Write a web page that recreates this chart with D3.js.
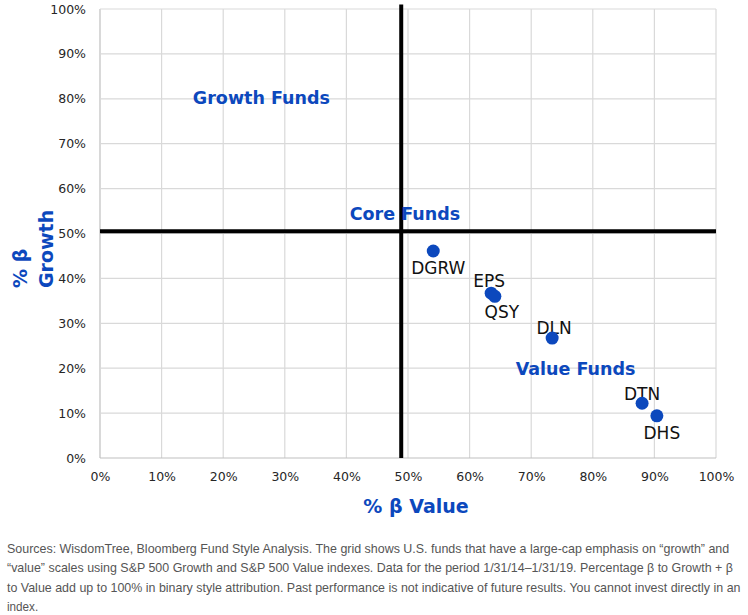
<!DOCTYPE html>
<html>
<head>
<meta charset="utf-8">
<script src="https://cdn.jsdelivr.net/npm/d3@7"></script>
<style>
  body { margin: 0; background: #fff; }
  svg { display: block; }
</style>
</head>
<body>
<div id="chart"></div>
<script>
// fund style data (percent beta to value / growth)
const funds = ["DGRW", "EPS", "QSY", "DLN", "DTN", "DHS"];
const valuePct = [54.1, 63.5, 64.1, 73.4, 88.0, 90.4];
const growthPct = [46.1, 36.7, 36.0, 26.7, 12.2, 9.4];

const ticks = [0, 10, 20, 30, 40, 50, 60, 70, 80, 90, 100];

// quadrant divider lines
const coreValue = 48.9;
const coreGrowth = 50.5;

const quadrantNames = ["Growth Funds", "Core Funds", "Value Funds"];
const quadrantValue = [26.2, 49.5, 77.2];
const quadrantGrowth = [80.2, 54.3, 19.8];

const footnote = [
    "Sources: WisdomTree, Bloomberg Fund Style Analysis. The grid shows U.S. funds that have a large-cap emphasis on \u201cgrowth\u201d and",
    "\u201cvalue\u201d scales using S&P 500 Growth and S&P 500 Value indexes. Data for the period 1/31/14\u20131/31/19. Percentage \u03b2 to Growth + \u03b2",
    "to Value add up to 100% in binary style attribution. Past performance is not indicative of future results. You cannot invest directly in an",
    "index."
];

const width = 748, height = 615;
const margin = { top: 9, right: 32, bottom: 157, left: 100 };
const blue = "#0c48bd";
const font = "'DejaVu Sans', sans-serif";

const svg = d3.select("#chart").append("svg")
    .attr("width", width)
    .attr("height", height);

const x = d3.scaleLinear().domain([0, 100]).range([margin.left, width - margin.right]);
const y = d3.scaleLinear().domain([0, 100]).range([height - margin.bottom, margin.top]);

// gridlines
svg.append("g").selectAll("line.v").data(ticks).join("line")
    .attr("x1", d => x(d)).attr("x2", d => x(d))
    .attr("y1", y(0)).attr("y2", y(100))
    .attr("stroke", d => d === 0 ? "#bfbfbf" : "#d9d9d9")
    .attr("stroke-width", 1.2);
svg.append("g").selectAll("line.h").data(ticks).join("line")
    .attr("x1", x(0)).attr("x2", x(100))
    .attr("y1", d => y(d)).attr("y2", d => y(d))
    .attr("stroke", d => d === 0 ? "#bfbfbf" : "#d9d9d9")
    .attr("stroke-width", 1.2);

// axes (labels only)
const xAxis = d3.axisBottom(x).tickValues(ticks).tickFormat(d => d + "%").tickSize(0).tickPadding(14);
const yAxis = d3.axisLeft(y).tickValues(ticks).tickFormat(d => d + "%").tickSize(0).tickPadding(14);

svg.append("g")
    .attr("transform", `translate(0,${y(0)})`)
    .call(xAxis)
    .call(g => g.select(".domain").remove())
    .selectAll("text")
    .attr("font-family", font).attr("font-size", 12.5).attr("fill", "#262626");

svg.append("g")
    .attr("transform", `translate(${x(0)},0)`)
    .call(yAxis)
    .call(g => g.select(".domain").remove())
    .selectAll("text")
    .attr("font-family", font).attr("font-size", 12.5).attr("fill", "#262626");

// quadrant divider lines
svg.append("line")
    .attr("x1", x(coreValue)).attr("x2", x(coreValue))
    .attr("y1", y(101)).attr("y2", y(0))
    .attr("stroke", "#000").attr("stroke-width", 4);
svg.append("line")
    .attr("x1", x(0)).attr("x2", x(100))
    .attr("y1", y(coreGrowth)).attr("y2", y(coreGrowth))
    .attr("stroke", "#000").attr("stroke-width", 4);

// quadrant labels
svg.append("g").selectAll("text").data(quadrantNames).join("text")
    .attr("x", (d, i) => x(quadrantValue[i]))
    .attr("y", (d, i) => y(quadrantGrowth[i]))
    .attr("dy", "0.36em")
    .attr("text-anchor", "middle")
    .attr("font-family", font).attr("font-weight", "bold").attr("font-size", 17.5)
    .attr("fill", blue)
    .text(d => d);

// fund labels: offsets from the dot
const labelOffset = {
    DGRW: [5, 23], EPS: [-2, -6], QSY: [7, 22],
    DLN: [2, -4], DTN: [0, -3], DHS: [5, 23]
};

const points = funds.map((f, i) => ({ name: f, v: valuePct[i], g: growthPct[i] }));

svg.append("g").selectAll("text").data(points).join("text")
    .attr("x", d => x(d.v) + labelOffset[d.name][0])
    .attr("y", d => y(d.g) + labelOffset[d.name][1])
    .attr("text-anchor", "middle")
    .attr("font-family", font).attr("font-size", 17)
    .attr("fill", "#111")
    .text(d => d.name);

svg.append("g").selectAll("circle").data(points).join("circle")
    .attr("cx", d => x(d.v))
    .attr("cy", d => y(d.g))
    .attr("r", 6.5)
    .attr("fill", blue);

// axis titles
svg.append("text")
    .attr("x", 416).attr("y", 513)
    .attr("text-anchor", "middle")
    .attr("font-family", font).attr("font-weight", "bold").attr("font-size", 19)
    .attr("fill", blue)
    .text("% \u03b2 Value");

const yTitle = svg.append("g").attr("transform", "translate(0,288) rotate(-90)");
yTitle.append("text")
    .attr("x", 0).attr("y", 27)
    .attr("font-family", font).attr("font-weight", "bold").attr("font-size", 19)
    .attr("fill", blue)
    .text("% \u03b2");
yTitle.append("text")
    .attr("x", 0).attr("y", 53)
    .attr("font-family", font).attr("font-weight", "bold").attr("font-size", 19)
    .attr("fill", blue)
    .text("Growth");

// footnote: condensed by a horizontal scale so each line ends where the reference does
const lineWidths = [723, 726, 734, null];
svg.append("g").selectAll("text").data(footnote).join("text")
    .attr("x", 0)
    .attr("y", 0)
    .attr("font-family", "'Liberation Sans Narrow', 'Arial Narrow', 'Liberation Sans', Arial, sans-serif")
    .attr("font-size", 13)
    .attr("fill", "#555")
    .text(d => d)
    .each(function(d, i) {
        const len = this.getComputedTextLength();
        const k = lineWidths[i] ? lineWidths[i] / len : 0.9;
        d3.select(this).attr("transform", `translate(7,${553 + i * 19.3}) scale(${k},1)`);
    });
</script>
</body>
</html>
